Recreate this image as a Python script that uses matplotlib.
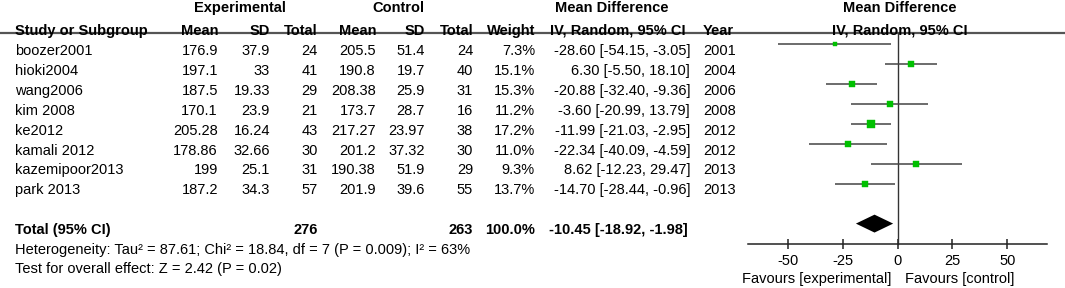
import numpy as np
import matplotlib
matplotlib.use("Agg")
import matplotlib.pyplot as plt

plt.rcParams['font.family'] = ['Liberation Sans', 'DejaVu Sans']
plt.rcParams['font.size'] = 10.5

studies = ['boozer2001', 'hioki2004', 'wang2006', 'kim 2008', 'ke2012',
           'kamali 2012', 'kazemipoor2013', 'park 2013']
exp_mean = ['176.9', '197.1', '187.5', '170.1', '205.28', '178.86', '199', '187.2']
exp_sd = ['37.9', '33', '19.33', '23.9', '16.24', '32.66', '25.1', '34.3']
exp_n = ['24', '41', '29', '21', '43', '30', '31', '57']
ctl_mean = ['205.5', '190.8', '208.38', '173.7', '217.27', '201.2', '190.38', '201.9']
ctl_sd = ['51.4', '19.7', '25.9', '28.7', '23.97', '37.32', '51.9', '39.6']
ctl_n = ['24', '40', '31', '16', '38', '30', '29', '55']
weight = [7.3, 15.1, 15.3, 11.2, 17.2, 11.0, 9.3, 13.7]
md = [-28.60, 6.30, -20.88, -3.60, -11.99, -22.34, 8.62, -14.70]
lo = [-54.15, -5.50, -32.40, -20.99, -21.03, -40.09, -12.23, -28.44]
hi = [-3.05, 18.10, -9.36, 13.79, -2.95, -4.59, 29.47, -0.96]
years = ['2001', '2004', '2006', '2008', '2012', '2012', '2013', '2013']

total_md, total_lo, total_hi = -10.45, -18.92, -1.98
total_exp, total_ctl = '276', '263'
xticks = [-50, -25, 0, 25, 50]

W, H = 1065, 288
fig = plt.figure(figsize=(W / 100, H / 100), dpi=100)

# rows: study i at row i, total at row 9, axis at row 10
y_top, y_bot = -2.236, 12.236
dy = 0.33  # text sits a bit below the plotted row

tab = fig.add_axes([0, 0, 1, 1])
tab.set_xlim(0, W)
tab.set_ylim(y_bot, y_top)
tab.axis('off')

# header
hdr1, hdr2 = -1.82, -0.70
tab.text(240, hdr1, 'Experimental', ha='center', va='center', weight='bold')
tab.text(398, hdr1, 'Control', ha='center', va='center', weight='bold')
tab.text(612, hdr1, 'Mean Difference', ha='center', va='center', weight='bold')
tab.text(900, hdr1, 'Mean Difference', ha='center', va='center', weight='bold')
tab.text(15, hdr2, 'Study or Subgroup', ha='left', va='center', weight='bold')
for x, s in [(218, 'Mean'), (270, 'SD'), (318, 'Total'), (376, 'Mean'),
             (425, 'SD'), (473, 'Total'), (535, 'Weight'),
             (686, 'IV, Random, 95% CI')]:
    tab.text(x, hdr2, s, ha='right', va='center', weight='bold')
tab.text(703, hdr2, 'Year', ha='left', va='center', weight='bold')
tab.text(900, hdr2, 'IV, Random, 95% CI', ha='center', va='center', weight='bold')
tab.plot([0, W], [-0.58, -0.58], color='#555555', lw=1.6, solid_capstyle='butt')

# study rows
for i in range(len(studies)):
    y = i + dy
    tab.text(15, y, studies[i], ha='left', va='center')
    tab.text(218, y, exp_mean[i], ha='right', va='center')
    tab.text(270, y, exp_sd[i], ha='right', va='center')
    tab.text(318, y, exp_n[i], ha='right', va='center')
    tab.text(376, y, ctl_mean[i], ha='right', va='center')
    tab.text(425, y, ctl_sd[i], ha='right', va='center')
    tab.text(473, y, ctl_n[i], ha='right', va='center')
    tab.text(535, y, f'{weight[i]:.1f}%', ha='right', va='center')
    tab.text(690, y, f'{md[i]:.2f} [{lo[i]:.2f}, {hi[i]:.2f}]', ha='right', va='center')
    tab.text(703, y, years[i], ha='left', va='center')

# total row
y = 9 + dy
tab.text(15, y, 'Total (95% CI)', ha='left', va='center', weight='bold')
tab.text(318, y, total_exp, ha='right', va='center', weight='bold')
tab.text(473, y, total_ctl, ha='right', va='center', weight='bold')
tab.text(535, y, '100.0%', ha='right', va='center', weight='bold')
tab.text(688, y, f'{total_md:.2f} [{total_lo:.2f}, {total_hi:.2f}]',
         ha='right', va='center', weight='bold')
tab.text(15, 10.32, 'Heterogeneity: Tau² = 87.61; Chi² = 18.84, df = 7 (P = 0.009); I² = 63%',
         ha='left', va='center')
tab.text(15, 11.28, 'Test for overall effect: Z = 2.42 (P = 0.02)', ha='left', va='center')

# forest plot
x0, x1 = 748, 1047
ax = fig.add_axes([x0 / W, 0, (x1 - x0) / W, 1])
ax.set_xlim(-68, 68)
ax.set_ylim(y_bot, y_top)
ax.patch.set_alpha(0)
for sp in ['top', 'left', 'right']:
    ax.spines[sp].set_visible(False)
ax.spines['bottom'].set_position(('data', 10))
ax.spines['bottom'].set_color('#222222')
ax.spines['bottom'].set_linewidth(1.1)
ax.set_yticks([])
ax.set_xticks(xticks)
ax.set_xticklabels([str(t) for t in xticks])
ax.tick_params(axis='x', direction='inout', length=6.5, width=1.1, color='#222222', pad=4.5)

ax.plot([0, 0], [-0.58, 10], color='#333333', lw=1.0)
for i in range(len(studies)):
    ax.plot([lo[i], hi[i]], [i, i], color='#444444', lw=1.1, solid_capstyle='butt')
    side = 1.7 * np.sqrt(weight[i]) / 1.389
    ax.plot(md[i], i, marker='s', ms=side, color='#00c000', mec='#00c000', mew=0.3)

ax.fill([total_lo, total_md, total_hi, total_md], [9, 8.55, 9, 9.45], color='black', lw=0)

ax.text(-3, 11.78, 'Favours [experimental]', ha='right', va='center')
ax.text(3.5, 11.78, 'Favours [control]', ha='left', va='center')

fig.savefig('out.png', dpi=100)
